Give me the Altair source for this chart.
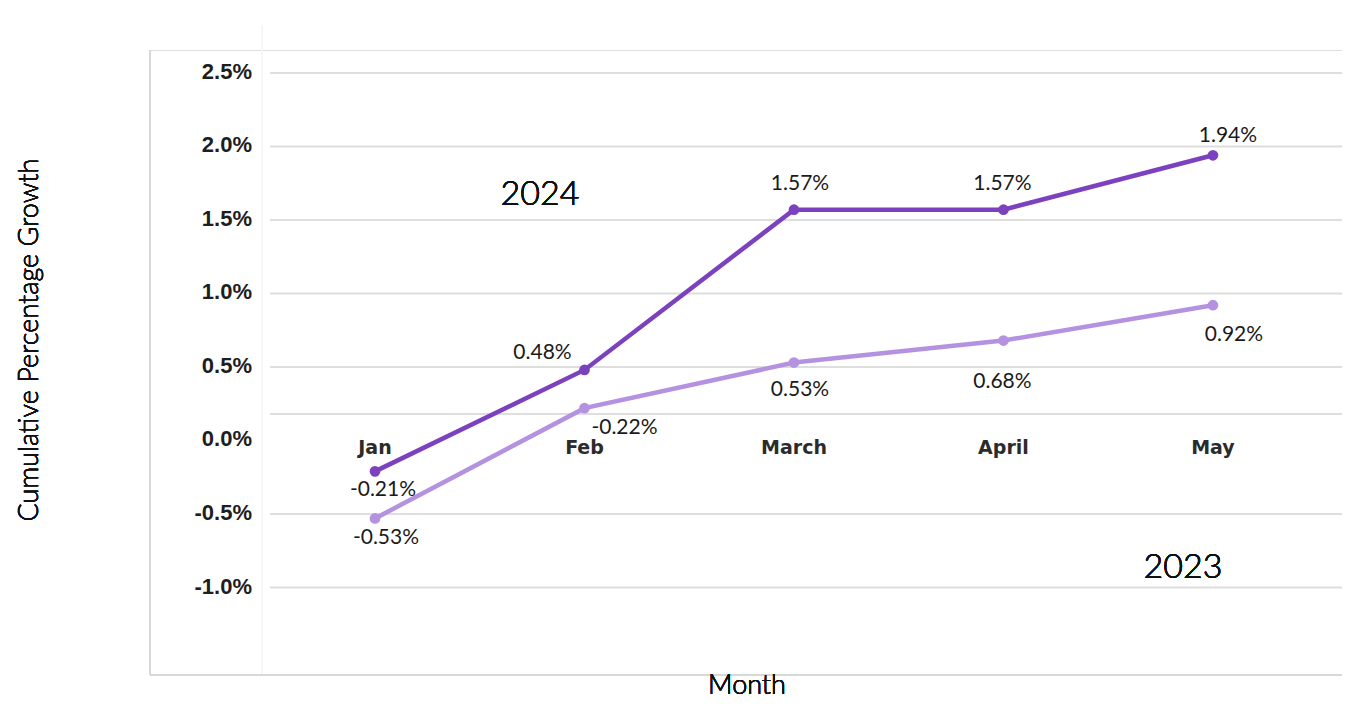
import altair as alt
import pandas as pd

# ---------------- data ----------------
months = ["Jan", "Feb", "March", "April", "May"]
growth_2024 = [-0.21, 0.48, 1.57, 1.57, 1.94]
growth_2023 = [-0.53, 0.22, 0.53, 0.68, 0.92]
labels_2024 = ["-0.21%", "0.48%", "1.57%", "1.57%", "1.94%"]
labels_2023 = ["-0.53%", "-0.22%", "0.53%", "0.68%", "0.92%"]
y_tick_values = [2.5, 2.0, 1.5, 1.0, 0.5, 0.0, -0.5, -1.0]
y_tick_labels = ["2.5%", "2.0%", "1.5%", "1.0%", "0.5%", "0.0%", "-0.5%", "-1.0%"]
grid_values = [2.5, 2.0, 1.5, 1.0, 0.5, 0.18, -0.5, -1.0]
series_names = ["2024", "2023"]
series_colors = ["#7c41be", "#b592e0"]

# label offsets (pixels) relative to each point: styling only
offsets_2024 = [(8, 19), (-42, -17), (6, -26), (-1, -26), (15, -19)]
offsets_2023 = [(11, 20), (40, 20), (6, 27), (-1, 41), (21, 30)]

rows = []
for i, m in enumerate(months):
    rows.append({"idx": i, "month": m, "series": "2024", "value": growth_2024[i], "label": labels_2024[i]})
    rows.append({"idx": i, "month": m, "series": "2023", "value": growth_2023[i], "label": labels_2023[i]})
df = pd.DataFrame(rows)
month_df = pd.DataFrame({"idx": list(range(len(months))), "month": months, "zero": [0.0] * len(months)})
ytick_df = pd.DataFrame({"v": y_tick_values, "label": y_tick_labels, "xpos": [-0.587] * len(y_tick_values)})
grid_df = pd.DataFrame({"v": grid_values})

W, H = 1192, 625
xs = alt.Scale(domain=[-1.074, 4.616], nice=False, zero=False)
ys = alt.Scale(domain=[-1.595, 2.656], nice=False, zero=False)
cs = alt.Scale(domain=series_names, range=series_colors)

X = lambda f: alt.X(f, type="quantitative", scale=xs, axis=None)
Y = lambda f: alt.Y(f, type="quantitative", scale=ys, axis=None)

grid = alt.Chart(grid_df).mark_rule(color="#dedede", strokeWidth=2).encode(
    y=Y("v"), x=alt.value(120), x2=alt.value(W)
)

frame_left = alt.Chart(grid_df).mark_rule(color="#d8d8d8", strokeWidth=2).encode(
    x=alt.value(0), y=alt.value(0), y2=alt.value(H)
)
frame_bottom = alt.Chart(grid_df).mark_rule(color="#d8d8d8", strokeWidth=2).encode(
    x=alt.value(0), x2=alt.value(W), y=alt.value(H)
)
faint_v = alt.Chart(grid_df).mark_rule(color="#f6f6f6", strokeWidth=1).encode(
    x=alt.value(112), y=alt.value(-25), y2=alt.value(H)
)

lines = alt.Chart(df).mark_line(strokeWidth=4.5).encode(
    x=X("idx"), y=Y("value"),
    color=alt.Color("series:N", scale=cs, legend=None),
    detail="series:N",
)
points = alt.Chart(df).mark_circle(size=115, opacity=1).encode(
    x=X("idx"), y=Y("value"),
    color=alt.Color("series:N", scale=cs, legend=None),
)

label_layers = []
for s, offs in (("2024", offsets_2024), ("2023", offsets_2023)):
    for i, (dx, dy) in enumerate(offs):
        label_layers.append(
            alt.Chart(df)
            .transform_filter((alt.datum.series == s) & (alt.datum.idx == i))
            .mark_text(font="Lato", fontWeight="normal", fontSize=21, color="#1a1a1a", dx=dx, dy=dy,
                       align="center", baseline="middle")
            .encode(x=X("idx"), y=Y("value"), text="label:N")
        )

yticks = alt.Chart(ytick_df).mark_text(
    font="Liberation Sans", fontWeight="bold", fontSize=22, color="#1e1e1e",
    align="right", baseline="middle", dy=-1
).encode(x=X("xpos"), y=Y("v"), text="label:N")

month_labels = alt.Chart(month_df).mark_text(
    font="DejaVu Sans", fontWeight="bold", fontSize=19, color="#2b2b2b",
    align="center", baseline="middle", dy=8
).encode(x=X("idx"), y=Y("zero"), text="month:N")

ann_2024 = alt.Chart(grid_df).mark_text(
    text="2024", font="Lato", fontWeight=300, fontSize=34, color="#111111", align="center", baseline="middle"
).encode(x=alt.value(390), y=alt.value(145))
ann_2023 = alt.Chart(grid_df).mark_text(
    text="2023", font="Lato", fontWeight=300, fontSize=34, color="#111111", align="center", baseline="middle"
).encode(x=alt.value(1033), y=alt.value(518))

x_title = alt.Chart(grid_df).mark_text(
    text="Month", font="Lato", fontWeight=300, fontSize=27, color="#111111", align="center", baseline="alphabetic"
).encode(x=alt.value(597), y=alt.value(644))
y_title = alt.Chart(grid_df).mark_text(
    text="Cumulative Percentage Growth", font="Lato", fontWeight=300, fontSize=27, color="#111111",
    align="center", baseline="middle", angle=270
).encode(x=alt.value(-120), y=alt.value(290))

chart = alt.layer(
    faint_v, grid, frame_left, frame_bottom, lines, points, *label_layers,
    yticks, month_labels, ann_2024, ann_2023, x_title, y_title
).properties(
    width=W, height=H,
    autosize=alt.AutoSizeParams(type="none"),
    padding={"left": 142, "top": 42, "right": 0, "bottom": 26},
).configure_view(stroke=None).configure(background="white")

chart.save("out.html", embed_options={"renderer": "svg", "actions": False})
